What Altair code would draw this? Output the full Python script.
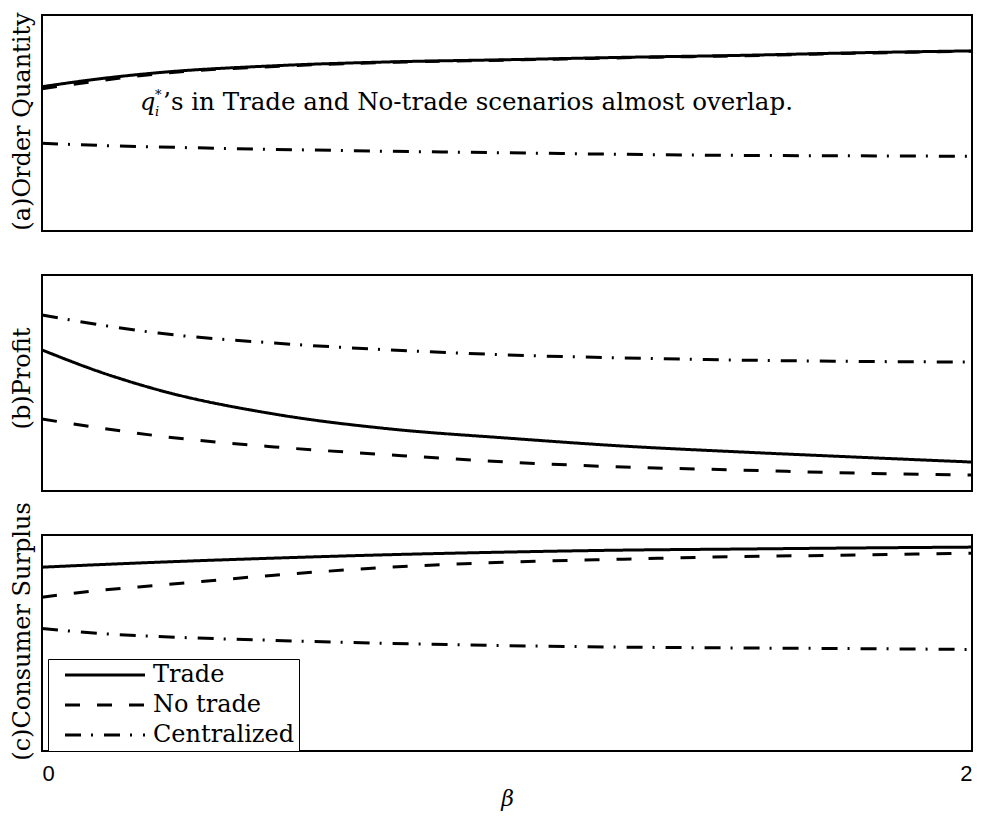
import altair as alt
import pandas as pd

beta = [0, 0.125, 0.25, 0.5, 0.75, 1.0, 1.25, 1.5, 1.75, 2.0]
scenarios = ["Trade", "No trade", "Centralized"]

qty_trade = [0.668, 0.705, 0.733, 0.765, 0.783, 0.793, 0.804, 0.813, 0.825, 0.834]
qty_notrade = [0.659, 0.696, 0.728, 0.762, 0.781, 0.791, 0.802, 0.811, 0.823, 0.832]
qty_central = [0.406, 0.396, 0.389, 0.378, 0.369, 0.362, 0.355, 0.350, 0.348, 0.346]

profit_trade = [0.653, 0.551, 0.468, 0.356, 0.287, 0.245, 0.208, 0.181, 0.157, 0.134]
profit_notrade = [0.333, 0.292, 0.255, 0.204, 0.167, 0.134, 0.111, 0.097, 0.083, 0.074]
profit_central = [0.815, 0.769, 0.731, 0.685, 0.653, 0.630, 0.616, 0.606, 0.600, 0.597]

cs_trade = [0.851, 0.863, 0.874, 0.893, 0.909, 0.921, 0.930, 0.935, 0.940, 0.944]
cs_notrade = [0.712, 0.744, 0.767, 0.814, 0.851, 0.874, 0.888, 0.900, 0.907, 0.916]
cs_central = [0.567, 0.544, 0.530, 0.512, 0.498, 0.488, 0.481, 0.477, 0.474, 0.470]

panel_titles = ["(a)Order Quantity", "(b)Profit", "(c)Consumer Surplus"]
x_ticks = [0, 2]

annot_x = 0.211
annot_y = 0.562
annot_rest = "\u2019s in Trade and No-trade scenarios almost overlap."

SERIF = "DejaVu Serif"
W, H = 930, 216


def frame(tr, nt, ce):
    rows = []
    for name, vals in zip(scenarios, [tr, nt, ce]):
        for b, v in zip(beta, vals):
            rows.append({"beta": b, "value": v, "scenario": name})
    return pd.DataFrame(rows)


dash_scale = alt.Scale(domain=scenarios, range=[[1, 0], [15, 17], [16, 10, 2, 11]])


def panel(df, title, title_y, bottom=False, legend=False, extra=None):
    if bottom:
        xaxis = alt.Axis(values=x_ticks, title="\u03b2", labelPadding=12,
                         titleFont=SERIF, titleFontStyle="italic", titlePadding=4,
                         titleFontSize=22, format="d")
    else:
        xaxis = None
    leg = None
    if legend:
        leg = alt.Legend(title=None, orient="none", legendX=6, legendY=124,
                         strokeColor="black", fillColor="white", padding=4,
                         symbolType="M-4,0H4", symbolSize=400,
                         symbolStrokeWidth=3, symbolStrokeColor="black",
                         labelFont=SERIF, labelFontSize=24, labelColor="black",
                         rowPadding=6, labelOffset=36, symbolOffset=41)
    lines = alt.Chart(df).mark_line(color="black", strokeWidth=3,
                                    interpolate="monotone").encode(
        x=alt.X("beta:Q", scale=alt.Scale(domain=[0, 2], nice=False), axis=xaxis),
        y=alt.Y("value:Q", scale=alt.Scale(domain=[0, 1], nice=False),
                axis=alt.Axis(title=title, labels=False, titlePadding=8,
                              titleY=title_y)),
        strokeDash=alt.StrokeDash("scenario:N", scale=dash_scale, legend=leg),
    )
    layers = [lines]
    if extra is not None:
        layers += extra
    return alt.layer(*layers).properties(width=W, height=H)


ann_common = dict(x=alt.datum(annot_x), y=alt.datum(annot_y))
ann_q = alt.Chart().mark_text(text="q", font=SERIF, fontSize=24, fontStyle="italic",
                              align="left", baseline="alphabetic", color="black").encode(**ann_common)
ann_star = alt.Chart().mark_text(text="*", font=SERIF, fontSize=13, align="left",
                                 baseline="alphabetic", dx=15, dy=-11, color="black").encode(**ann_common)
ann_i = alt.Chart().mark_text(text="i", font=SERIF, fontSize=13, fontStyle="italic", align="left",
                              baseline="alphabetic", dx=15, dy=6, color="black").encode(**ann_common)
ann_rest = alt.Chart().mark_text(text=annot_rest, font=SERIF, fontSize=24.5, align="left",
                                 baseline="alphabetic", dx=23, color="black").encode(**ann_common)

pa = panel(frame(qty_trade, qty_notrade, qty_central), panel_titles[0], 106,
           extra=[ann_q, ann_star, ann_i, ann_rest])
pb = panel(frame(profit_trade, profit_notrade, profit_central), panel_titles[1], 103)
pc = panel(frame(cs_trade, cs_notrade, cs_central), panel_titles[2], 96,
           bottom=True, legend=True)

chart = alt.vconcat(pa, pb, pc, spacing=44, bounds="flush").resolve_scale(
    strokeDash="independent", x="independent", y="independent"
).properties(
    padding={"left": 0, "top": 2, "right": 0, "bottom": 5}
).configure_view(
    stroke="black", strokeWidth=2
).configure_axis(
    grid=False, domain=False, ticks=False,
    labelFont="Liberation Sans", labelFontSize=22, labelColor="black",
    titleFont=SERIF, titleFontSize=24, titleFontWeight="normal", titleColor="black"
)

chart.save("out.html", embed_options={"renderer": "svg", "actions": False})
